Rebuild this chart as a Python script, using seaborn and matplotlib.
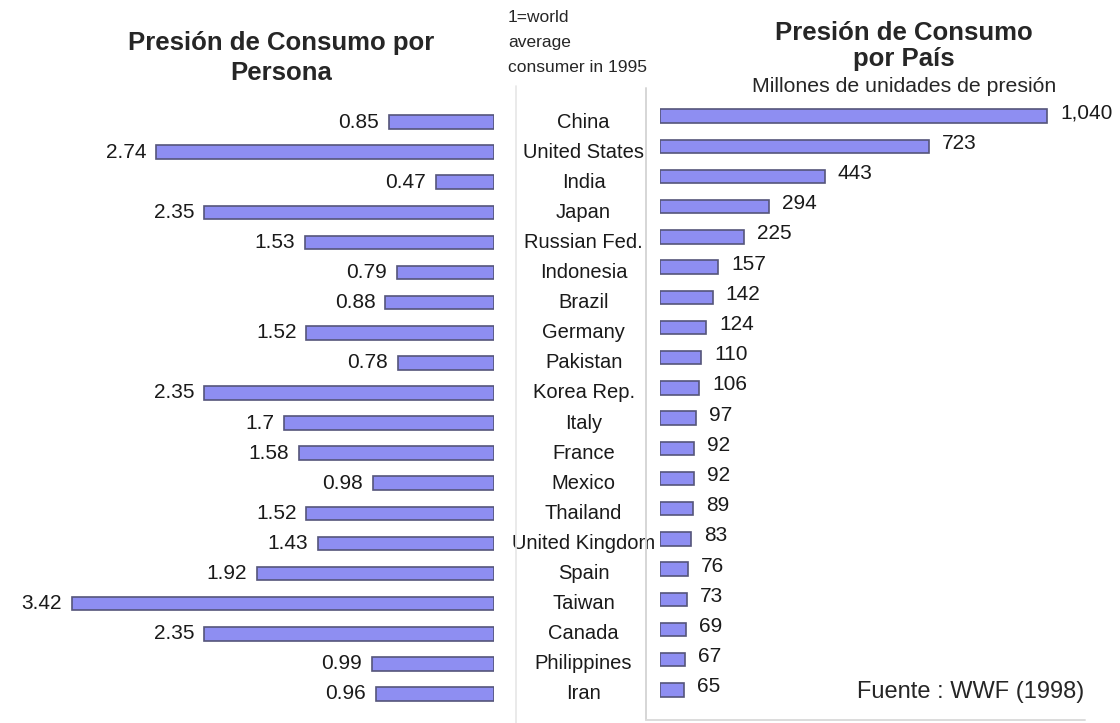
import pandas as pd
import matplotlib.pyplot as plt
import seaborn as sns

# Data
countries = ["China", "United States", "India", "Japan", "Russian Fed.", "Indonesia",
             "Brazil", "Germany", "Pakistan", "Korea Rep.", "Italy", "France", "Mexico",
             "Thailand", "United Kingdom", "Spain", "Taiwan", "Canada", "Philippines", "Iran"]
per_person = [0.85, 2.74, 0.47, 2.35, 1.53, 0.79, 0.88, 1.52, 0.78, 2.35,
              1.7, 1.58, 0.98, 1.52, 1.43, 1.92, 3.42, 2.35, 0.99, 0.96]
per_country = [1040, 723, 443, 294, 225, 157, 142, 124, 110, 106,
               97, 92, 92, 89, 83, 76, 73, 69, 67, 65]

df = pd.DataFrame({"country": countries, "persona": per_person, "pais": per_country})

sns.set_style("white")
plt.rcParams["font.family"] = ["Liberation Sans", "DejaVu Sans"]

bar_color = "#8e8ef2"
edge_color = "#55557a"
txt = "#1a1a1a"

W, H = 1120, 723
fig = plt.figure(figsize=(W / 100, H / 100), dpi=100)

# Left panel: per-person pressure (bars grow leftwards)
ax_l = fig.add_axes([0, (H - 709) / H, 494 / W, 602 / H])
sns.barplot(data=df, y="country", x="persona", orient="h", ax=ax_l,
            color=bar_color, edgecolor=edge_color, linewidth=1.2, width=0.45,
            saturation=1)
ax_l.set_xlim(494 / 123.4, 0)
for i, v in enumerate(per_person):
    ax_l.text(v + 0.08, i, f"{v:g}", ha="right", va="center", fontsize=15, color=txt)

# Right panel: per-country pressure
ax_r = fig.add_axes([660 / W, (H - 705) / H, 460 / W, 604 / H])
sns.barplot(data=df, y="country", x="pais", orient="h", ax=ax_r,
            color=bar_color, edgecolor=edge_color, linewidth=1.2, width=0.45,
            saturation=1)
ax_r.set_xlim(0, 460 / 0.372)
for i, v in enumerate(per_country):
    ax_r.text(v + 35, i - 0.1, f"{v:,}", ha="left", va="center", fontsize=15, color=txt)

# Center column with country names
ax_c = fig.add_axes([516 / W, (H - 709) / H, 130 / W, 602 / H])
ax_c.set_xlim(0, 1)
ax_c.set_ylim(len(countries) - 0.5, -0.5)
for i, c in enumerate(countries):
    ax_c.text(0.52, i, c, ha="center", va="center", fontsize=14.5, color=txt)

for ax in (ax_l, ax_r, ax_c):
    ax.set_xlabel("")
    ax.set_ylabel("")
    ax.set_xticks([])
    ax.set_yticks([])
    for s in ax.spines.values():
        s.set_visible(False)

# faint separators
fig.add_artist(plt.Line2D([516 / W, 516 / W], [0, (H - 86) / H], color="#e6e6e6", lw=1.2))
fig.add_artist(plt.Line2D([646 / W, 646 / W], [(H - 720) / H, (H - 88) / H], color="#d6d6d6", lw=1.4))
fig.add_artist(plt.Line2D([646 / W, 1085 / W], [(H - 720) / H, (H - 720) / H], color="#dcdcdc", lw=1.4))

# Titles and notes
fig.text(281 / W, 1 - 43 / H, "Presión de Consumo por", ha="center", va="center",
         fontsize=18.5, fontweight="bold")
fig.text(281 / W, 1 - 73 / H, "Persona", ha="center", va="center",
         fontsize=18.5, fontweight="bold")
fig.text(904 / W, 1 - 33 / H, "Presión de Consumo", ha="center", va="center",
         fontsize=18.5, fontweight="bold")
fig.text(904 / W, 1 - 59 / H, "por País", ha="center", va="center",
         fontsize=18.5, fontweight="bold")
fig.text(904 / W, 1 - 87 / H, "Millones de unidades de presión", ha="center", va="center",
         fontsize=15.3)
for k, line in enumerate(["1=world", "average", "consumer in 1995"]):
    fig.text(508 / W, 1 - (18 + 24.5 * k) / H, line, ha="left", va="center", fontsize=12.5)
fig.text(857 / W, 1 - 692 / H, "Fuente : WWF (1998)", ha="left", va="center", fontsize=17)

plt.savefig("out.png", dpi=100)
